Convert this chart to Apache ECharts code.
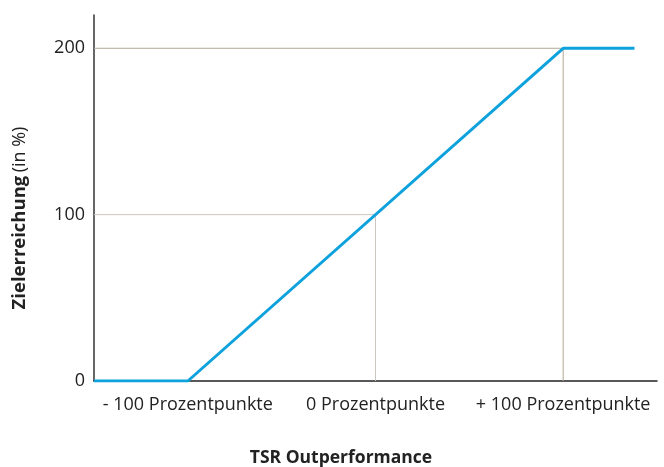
<!DOCTYPE html>
<html>
<head>
    <meta charset="UTF-8">
    <script src="https://cdn.jsdelivr.net/npm/echarts@6/dist/echarts.min.js"></script>
</head>
<body style="margin:0;background:#fff;">
    <div id="main" style="width:664px;height:467px"></div>
    <script type="text/javascript">
        // Zielerreichung je TSR Outperformance (Prozentpunkte)
        var kurveX = [-150, -100, 100, 138];
        var kurveY = [0, 0, 200, 200];
        // Hilfslinien
        var hilfe200 = [[-150, 200], [100, 200]];
        var hilfe100 = [[-150, 100], [0, 100]];
        var senk0 = [[0, 0], [0, 100]];
        var senk100 = [[100, 0], [100, 200]];
        var xTicks = [-100, 0, 100];
        var xLabels = ['- 100 Prozentpunkte', '0 Prozentpunkte', '+ 100 Prozentpunkte'];
        var yTicks = [0, 100, 200];

        var kurve = [];
        for (var i = 0; i < kurveX.length; i++) {
            kurve.push([kurveX[i], kurveY[i]]);
        }

        var font = '"Open Sans", "Noto Sans", sans-serif';
        var myChart = echarts.init(document.getElementById('main'));

        function hilfsLinie(data, farbe) {
            return {
                type: 'line',
                data: data,
                symbol: 'none',
                silent: true,
                z: 1,
                lineStyle: { color: farbe, width: 1 }
            };
        }

        var option = {
            animation: false,
            title: {
                text: 'TSR Outperformance',
                left: 336,
                top: 444,
                textAlign: 'center',
                textStyle: { fontFamily: font, fontSize: 17.5, fontWeight: 'bold', color: '#222' }
            },
            // y-Achsentitel gedreht
            graphic: [{
                type: 'text',
                x: 20,
                y: 218,
                rotation: Math.PI / 2,
                style: {
                    text: '{b|Zielerreichung} {n|(in %)}',
                    align: 'center',
                    verticalAlign: 'middle',
                    rich: {
                        b: { fontFamily: font, fontSize: 18.5, fontWeight: 'bold', fill: '#222' },
                        n: { fontFamily: font, fontSize: 18, fill: '#222' }
                    }
                }
            }],
            grid: { left: 94, right: 7, top: 15, bottom: 86 },
            xAxis: {
                type: 'value',
                min: -150,
                max: 150,
                interval: 50,
                axisLine: { lineStyle: { color: '#222', width: 1.5 } },
                axisTick: { show: false },
                splitLine: { show: false },
                axisLabel: {
                    margin: 15,
                    fontFamily: font,
                    fontSize: 18,
                    color: '#222',
                    formatter: function (v) {
                        var k = xTicks.indexOf(v);
                        return k >= 0 ? xLabels[k] : '';
                    }
                }
            },
            yAxis: {
                type: 'value',
                min: 0,
                max: 220,
                interval: 100,
                axisLine: { show: true, onZero: false, lineStyle: { color: '#333', width: 1.5 } },
                axisTick: { show: false },
                splitLine: { show: false },
                axisLabel: {
                    margin: 9,
                    fontFamily: font,
                    fontSize: 18,
                    color: '#222',
                    formatter: function (v) {
                        return yTicks.indexOf(v) >= 0 ? String(v) : '';
                    }
                }
            },
            series: [
                hilfsLinie(hilfe200, '#b4a797'),
                hilfsLinie(hilfe100, '#cbc6bf'),
                hilfsLinie(senk0, '#cbc6bf'),
                hilfsLinie(senk100, '#b4a797'),
                {
                    type: 'line',
                    data: kurve,
                    symbol: 'none',
                    z: 5,
                    lineStyle: { color: '#0ea2dd', width: 3 }
                }
            ]
        };

        myChart.setOption(option);
    </script>
</body>
</html>
